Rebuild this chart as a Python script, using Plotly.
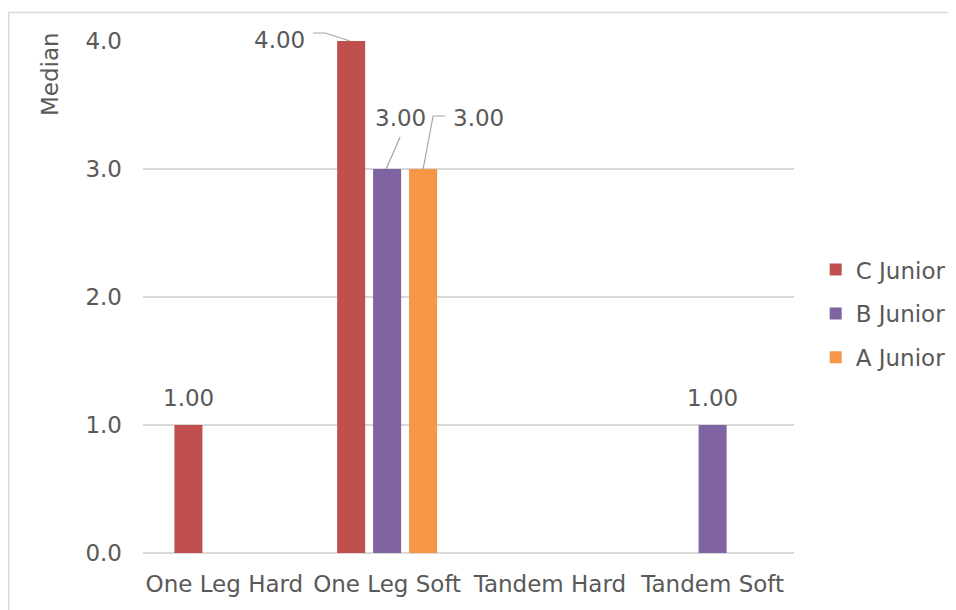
import plotly.graph_objects as go

categories = ["One Leg Hard", "One Leg Soft", "Tandem Hard", "Tandem Soft"]
series_names = ["C Junior", "B Junior", "A Junior"]
c_junior = [1.0, 4.0, None, None]
b_junior = [None, 3.0, None, 1.0]
a_junior = [None, 3.0, None, None]
colors = ["#C0504D", "#8064A2", "#F79646"]
y_ticks = [0, 1, 2, 3, 4]
y_max = 4

FONT = "DejaVu Sans"
TXT = "#595959"
FS = 23

W, H = 956, 610
L, T = 135, 33
pw, ph = 651.3, 511.7
R = W - L - pw
B = H - T - ph

def px_x(p):  # figure pixel -> paper x
    return (p - L) / pw

def px_y(p):  # figure pixel (from top) -> paper y
    return (T + ph - p) / ph

fig = go.Figure()
for name, vals, col in zip(series_names, [c_junior, b_junior, a_junior], colors):
    fig.add_trace(go.Bar(x=categories, y=vals, name=name, legendgroup=name,
                         marker=dict(color=col, line=dict(width=0))))

fig.update_layout(
    width=W, height=H,
    margin=dict(l=L, r=R, t=T, b=B, autoexpand=False),
    paper_bgcolor="white", plot_bgcolor="white",
    barmode="group", bargap=0.337, bargroupgap=0.22,
    font=dict(family=FONT, color=TXT, size=FS),
    showlegend=True,
    legend=dict(x=px_x(808), y=px_y(240), xanchor="left", yanchor="top",
                font=dict(size=FS, color=TXT), itemsizing="constant", tracegroupgap=11,
                traceorder="grouped", bgcolor="rgba(0,0,0,0)"),
)
fig.update_xaxes(showgrid=False, showline=False, ticks="", tickfont=dict(size=FS, color=TXT),
                 ticklabelstandoff=15)
fig.update_yaxes(range=[0, y_max], tickvals=y_ticks, tickformat=".1f", showgrid=True, gridcolor="#D9D9D9",
                 gridwidth=1.5, zeroline=True, zerolinecolor="#D9D9D9", zerolinewidth=1.5,
                 showline=False, ticks="", tickfont=dict(size=FS, color=TXT), ticklabelstandoff=20)

# axis title at top-left
fig.add_annotation(text="Median", xref="paper", yref="paper", x=px_x(42), y=px_y(22),
                   xanchor="center", yanchor="top", textangle=-90, showarrow=False,
                   font=dict(size=FS, color=TXT))

# data labels
slot = 36  # px per bar slot
offsets = [-slot, 0, slot]
lab = dict(showarrow=False, font=dict(size=FS, color=TXT), xref="x", yref="y")
fig.add_annotation(x=categories[0], y=c_junior[0], text=f"{c_junior[0]:.2f}", xshift=offsets[0],
                   yanchor="bottom", yshift=12, **lab)
fig.add_annotation(x=categories[3], y=b_junior[3], text=f"{b_junior[3]:.2f}", xshift=offsets[1],
                   yanchor="bottom", yshift=12, **lab)
# callout labels
fig.add_annotation(x=categories[1], y=c_junior[1], text=f"{c_junior[1]:.2f}", xshift=-108, yshift=1,
                   xanchor="center", yanchor="middle", **lab)
fig.add_annotation(x=categories[1], y=b_junior[1], text=f"{b_junior[1]:.2f}", xshift=13.5, yshift=51.5,
                   xanchor="center", yanchor="middle", **lab)
fig.add_annotation(x=categories[1], y=a_junior[1], text=f"{a_junior[1]:.2f}", xshift=91.6, yshift=51.5,
                   xanchor="center", yanchor="middle", **lab)

leader = dict(type="path", xref="x", yref="paper", xsizemode="pixel", ysizemode="pixel",
              line=dict(color="#A6A6A6", width=1.2))
fig.add_shape(xanchor=categories[1], yanchor=c_junior[1] / y_max, path="M -74,8 L -62,8 L -37,0", **leader)
fig.add_shape(xanchor=categories[1], yanchor=b_junior[1] / y_max, path="M 13,32 L -1,0", **leader)
fig.add_shape(xanchor=categories[1], yanchor=a_junior[1] / y_max, path="M 58,53 L 46,53 L 36,0", **leader)

# chart border
fig.add_shape(type="rect", xref="paper", yref="paper", x0=px_x(0.75), x1=px_x(W + 20),
              y0=px_y(H + 20), y1=px_y(4.5),
              line=dict(color="#D9D9D9", width=1.5), fillcolor="rgba(0,0,0,0)", layer="below")

fig.write_html("out.html")
